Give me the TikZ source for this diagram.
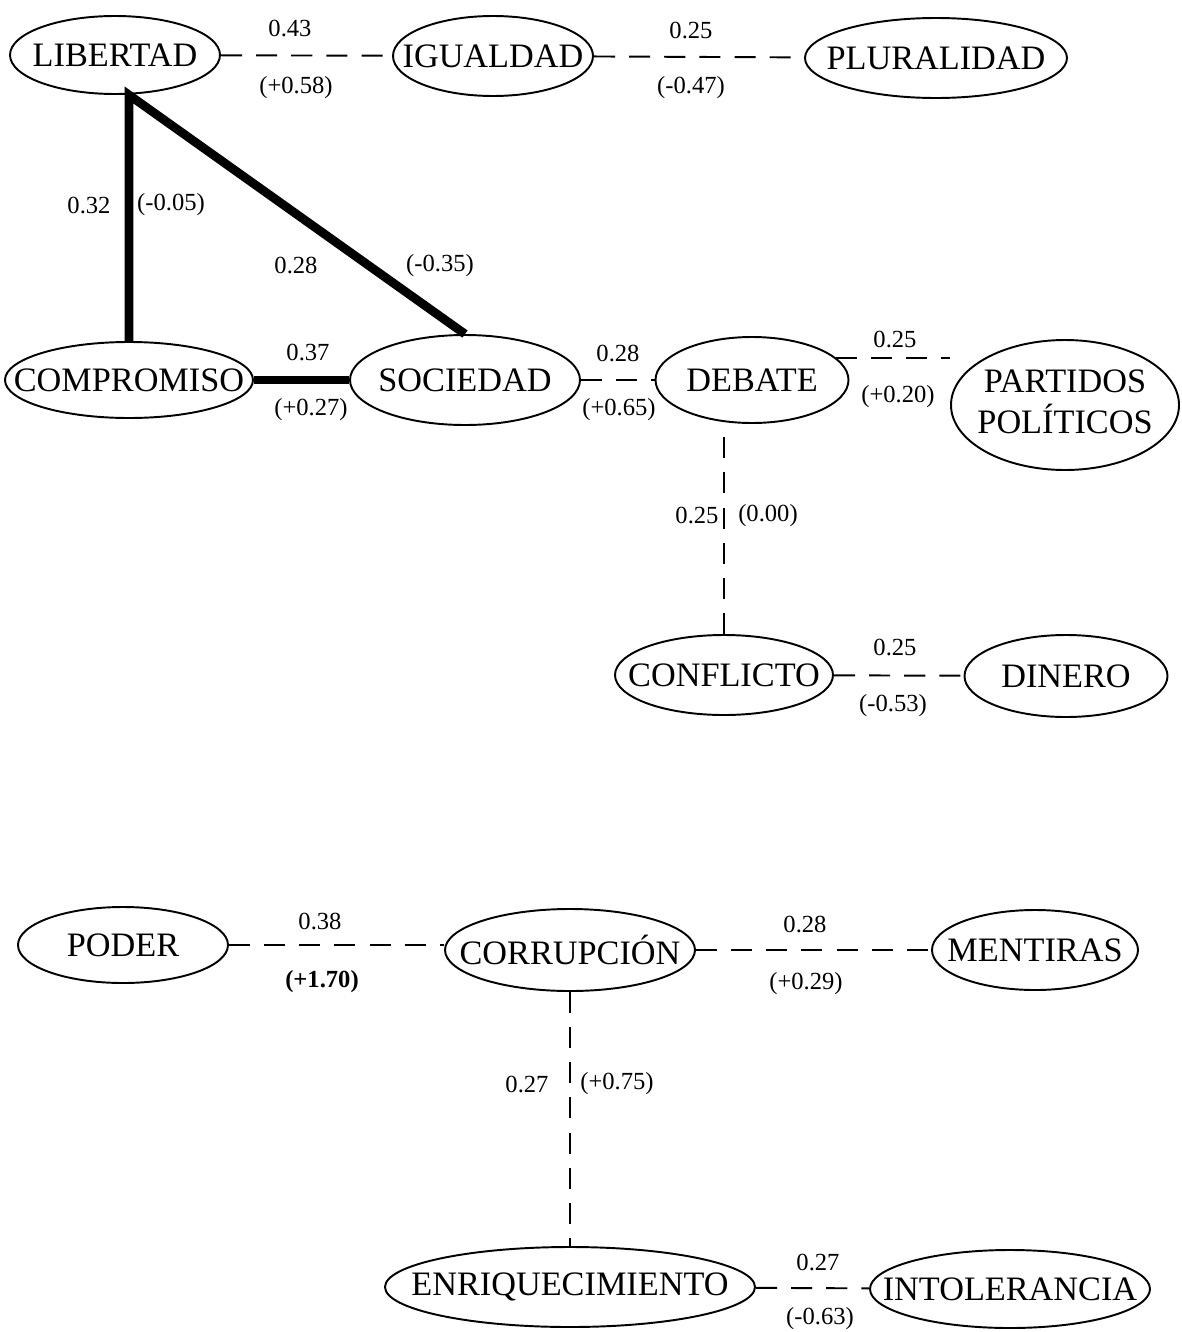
\documentclass[tikz,border=0pt]{standalone}
\usepackage{fontspec}
\setmainfont{Liberation Serif}
\usetikzlibrary{shapes.geometric}

\newcommand\clapword[1]{\makebox[0pt]{#1}}

\begin{document}
\begin{tikzpicture}[x=0.02cm,y=-0.02cm,
        concept/.style={draw, ellipse, line width=1.1pt, inner sep=0pt, font=\fontsize{19.5}{22}\selectfont},
        dims/.style 2 args={minimum width=#1*0.02cm, minimum height=#2*0.02cm},
        weak/.style={line width=1.1pt, dash pattern=on 12pt off 8pt},
        strong/.style={line width=5pt, line join=miter},
        lab/.style={font=\fontsize{14}{16}\selectfont, inner sep=0pt}]
        \useasboundingbox (0,0) rectangle (1181,1332);

        %Concepts
        \node[concept, dims={210}{78}] (lib) at (115,55) {\clapword{LIBERTAD}};
        \node[concept, dims={200}{80}] (igu) at (493,56) {\clapword{IGUALDAD}};
        \node[concept, dims={262}{80}] (plu) at (936,58) {\clapword{PLURALIDAD}};
        \node[concept, dims={248}{76}] (comp) at (129,380) {\clapword{COMPROMISO}};
        \node[concept, dims={230}{90}] (soc) at (465,380) {\clapword{SOCIEDAD}};
        \node[concept, dims={193}{86}] (deb) at (752,380) {\clapword{DEBATE}};
        \node[concept, dims={228}{130}] (par) at (1065,405) {\clapword{\begin{tabular}{@{}c@{}}PARTIDOS\\POLÍTICOS\end{tabular}}};
        \node[concept, dims={218}{80}] (conf) at (724,675) {\clapword{CONFLICTO}};
        \node[concept, dims={203}{82}] (din) at (1066,676) {\clapword{DINERO}};
        \node[concept, dims={210}{76}] (pod) at (123,945) {\clapword{PODER}};
        \node[concept, dims={250}{82}] (cor) at (570,950) {\clapword{CORRUPCIÓN}};
        \node[concept, dims={206}{80}] (men) at (1035,950) {\clapword{MENTIRAS}};
        \node[concept, dims={370}{80}] (enr) at (570,1287) {\clapword{ENRIQUECIMIENTO}};
        \node[concept, dims={280}{78}] (int) at (1010,1289) {\clapword{INTOLERANCIA}};

        %Strong links
        \draw[strong] (comp.north) -- (comp.north |- lib.south) -- (soc.north);
        \draw[strong] (comp) -- (soc);

        %Weak links
        \draw[weak] (lib) -- (igu);
        \draw[weak] (igu) -- (plu);
        \draw[weak] (soc) -- (deb);
        \draw[weak] (deb.15) -- (deb.15 -| par.west);
        \draw[weak] (conf.north) -- (conf.north |- deb.south);
        \draw[weak] (conf) -- (din);
        \draw[weak] (pod) -- (pod -| cor.west);
        \draw[weak] (cor) -- (men);
        \draw[weak] (cor) -- (enr);
        \draw[weak] (enr) -- (int);

        %Values
        \node[lab] (w-lib-igu) at (290,28) {0.43};
        \node[lab] (c-lib-igu) at (296,88) {(+0.58)};
        \node[lab] (w-igu-plu) at (691,30) {0.25};
        \node[lab] (c-igu-plu) at (691,88) {(-0.47)};
        \node[lab] (w-lib-comp) at (89,205) {0.32};
        \node[lab] (c-lib-comp) at (171,205) {(-0.05)};
        \node[lab] (w-lib-soc) at (296,265) {0.28};
        \node[lab] (c-lib-soc) at (440,266) {(-0.35)};
        \node[lab] (w-comp-soc) at (308,352) {0.37};
        \node[lab] (c-comp-soc) at (311,410) {(+0.27)};
        \node[lab] (w-soc-deb) at (618,353) {0.28};
        \node[lab] (c-soc-deb) at (619,410) {(+0.65)};
        \node[lab] (w-deb-par) at (895,339) {0.25};
        \node[lab] (c-deb-par) at (898,397) {(+0.20)};
        \node[lab] (w-deb-conf) at (697,515) {0.25};
        \node[lab] (c-deb-conf) at (768,516) {(0.00)};
        \node[lab] (w-conf-din) at (895,647) {0.25};
        \node[lab] (c-conf-din) at (893,706) {(-0.53)};
        \node[lab] (w-pod-cor) at (320,921) {0.38};
        \node[lab] (c-pod-cor) at (322,982) {\textbf{(+1.70)}};
        \node[lab] (w-cor-men) at (805,924) {0.28};
        \node[lab] (c-cor-men) at (806,984) {(+0.29)};
        \node[lab] (w-cor-enr) at (527,1084) {0.27};
        \node[lab] (c-cor-enr) at (617,1084) {(+0.75)};
        \node[lab] (w-enr-int) at (818,1262) {0.27};
        \node[lab] (c-enr-int) at (820,1319) {(-0.63)};
    \end{tikzpicture}
\end{document}
